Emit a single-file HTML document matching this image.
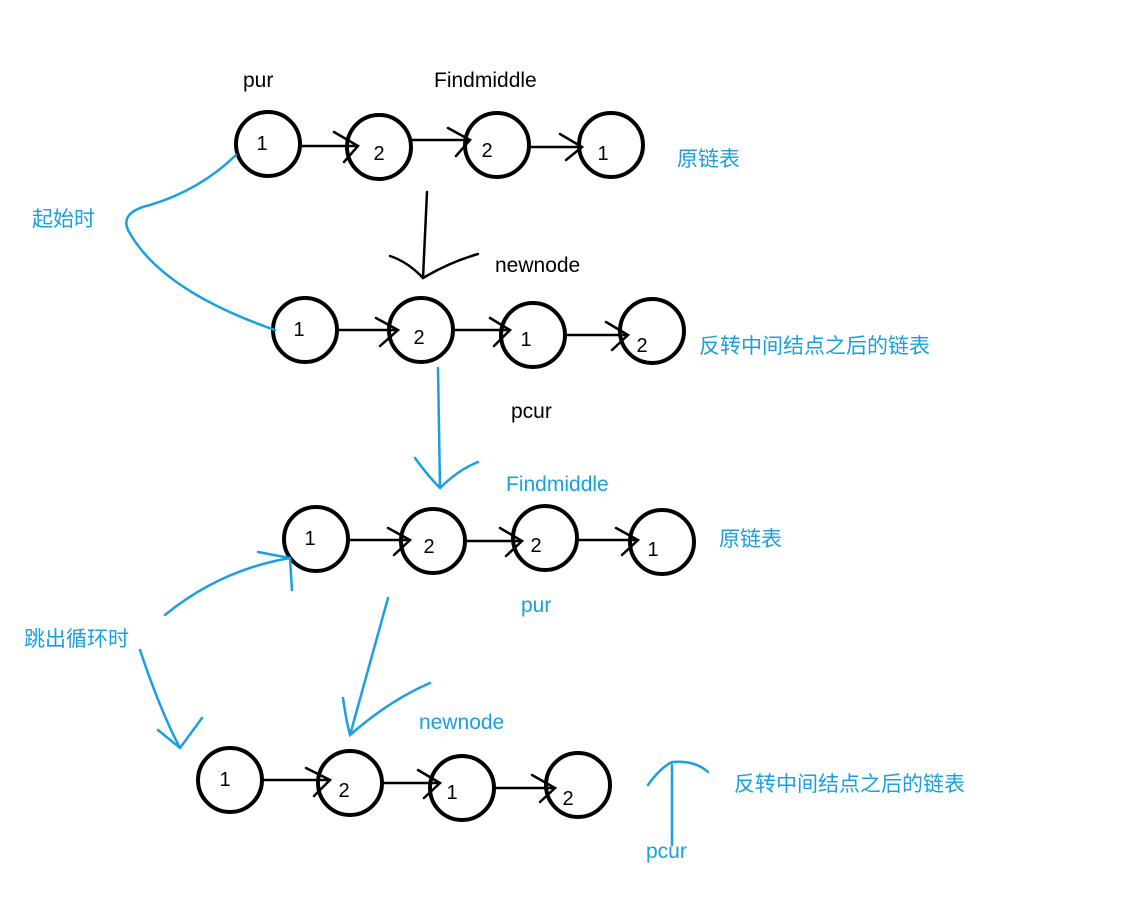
<!DOCTYPE html>
<html><head><meta charset="utf-8"><style>
html,body{margin:0;padding:0;background:#fff}
svg text{font-family:"Liberation Sans","Noto Sans CJK SC",sans-serif}
</style></head><body>
<svg width="1145" height="906" viewBox="0 0 1145 906" xmlns="http://www.w3.org/2000/svg">
<rect width="1145" height="906" fill="#fff"/>
<g fill="none" stroke="#000" stroke-width="4">
<circle cx="268" cy="144" r="32"/><circle cx="379" cy="147" r="32"/><circle cx="497" cy="145" r="32"/><circle cx="611" cy="145" r="32"/>
<circle cx="305" cy="330" r="32"/><circle cx="421" cy="330" r="32"/><circle cx="533" cy="335" r="32"/><circle cx="652" cy="331" r="32"/>
<circle cx="316" cy="539" r="32"/><circle cx="433" cy="541" r="32"/><circle cx="545" cy="538" r="32"/><circle cx="662" cy="542" r="32"/>
<circle cx="230" cy="780" r="32"/><circle cx="350" cy="783" r="32"/><circle cx="462" cy="788" r="32"/><circle cx="578" cy="785" r="32"/>
</g>
<g fill="none" stroke="#000" stroke-width="2.5" stroke-linecap="round">
<path d="M300 146 H358 M334 132 L358 146 L344 162"/>
<path d="M411 140 H470 M448 128 L470 140 L456 156"/>
<path d="M529 147 H582 M560 134 L582 147 L566 160"/>
<path d="M337 330 H398 M376 318 L398 330 L380 346"/>
<path d="M453 330 H510 M490 318 L510 330 L494 346"/>
<path d="M565 335 H628 M606 322 L628 335 L612 350"/>
<path d="M348 540 H410 M388 528 L410 540 L394 555"/>
<path d="M465 541 H522 M500 528 L522 541 L506 556"/>
<path d="M577 540 H638 M616 528 L638 540 L622 555"/>
<path d="M262 780 H330 M306 768 L330 780 L314 796"/>
<path d="M382 783 H440 M418 770 L440 783 L424 798"/>
<path d="M494 788 H555 M532 775 L555 788 L540 802"/>
<path d="M427 192 L423 278 M390 256 Q408 262 423 278 Q450 262 478 254"/>
</g>
<g fill="none" stroke="#1aa0e0" stroke-width="2.5" stroke-linecap="round">
<path d="M236 155 Q200 190 150 205 Q120 212 128 230 Q160 290 275 330"/>
<path d="M438 368 L440 488 M415 458 Q428 476 440 488 Q458 470 478 462"/>
<path d="M388 598 L350 735 M343 698 Q346 720 350 735 Q390 700 430 683"/>
<path d="M165 615 Q220 570 290 558 M258 552 L290 558 L292 590"/>
<path d="M140 650 Q160 710 180 748 M158 730 L180 748 L202 718"/>
<path d="M672 845 L672 765 M648 785 Q660 768 672 762 Q695 760 708 772"/>
</g>
<g font-size="20" fill="#000" text-anchor="middle">
<text x="262" y="150">1</text><text x="379" y="160">2</text><text x="487" y="157">2</text><text x="603" y="160">1</text>
<text x="299" y="336">1</text><text x="419" y="344">2</text><text x="526" y="346">1</text><text x="642" y="352">2</text>
<text x="310" y="545">1</text><text x="429" y="553">2</text><text x="536" y="552">2</text><text x="653" y="556">1</text>
<text x="225" y="786">1</text><text x="344" y="797">2</text><text x="452" y="799">1</text><text x="568" y="805">2</text>
</g>
<g font-size="21" fill="#000">
<text x="243" y="87">pur</text><text x="434" y="87">Findmiddle</text><text x="495" y="272">newnode</text><text x="511" y="418">pcur</text>
</g>
<g font-size="21" fill="#1aa0e0">
<text x="677" y="166">原链表</text><text x="32" y="226">起始时</text><text x="699" y="353">反转中间结点之后的链表</text>
<text x="506" y="491">Findmiddle</text><text x="719" y="546">原链表</text><text x="521" y="612">pur</text>
<text x="24" y="646">跳出循环时</text><text x="419" y="729">newnode</text><text x="734" y="791">反转中间结点之后的链表</text>
<text x="646" y="858">pcur</text>
</g>
</svg>
</body></html>
